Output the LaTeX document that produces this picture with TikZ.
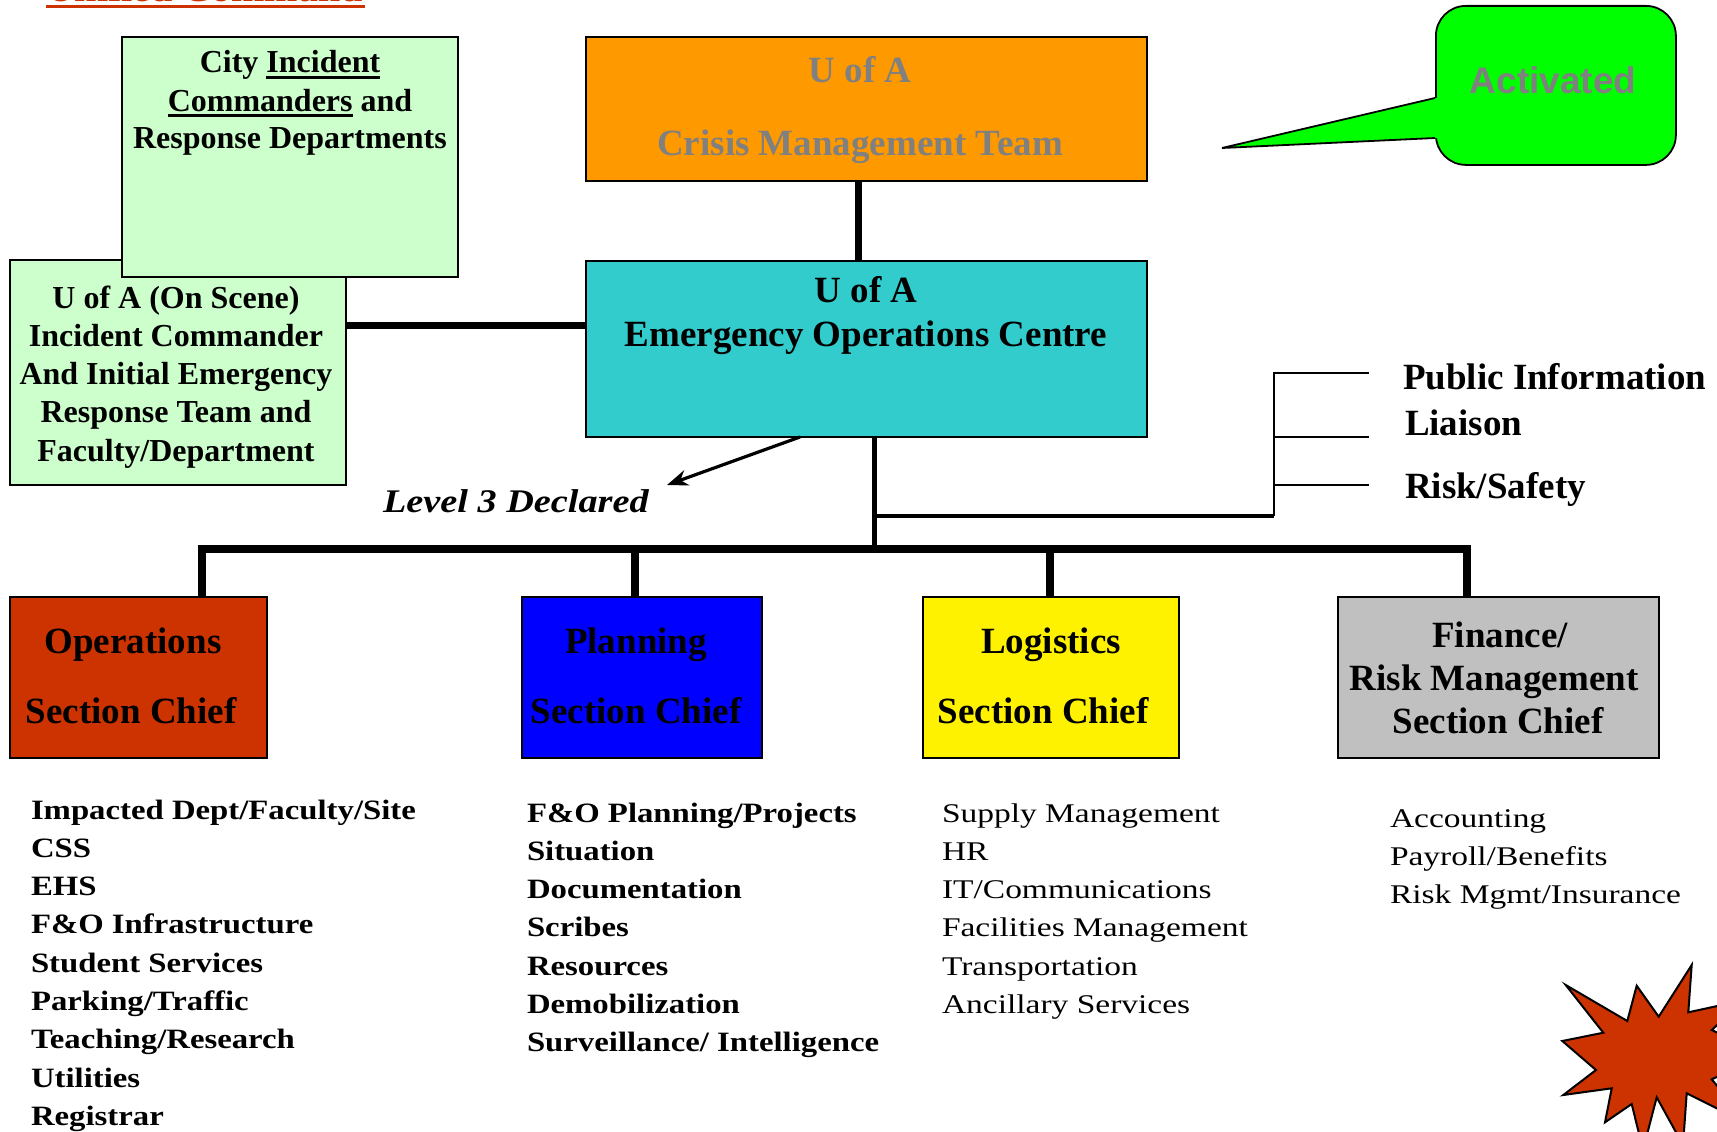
\documentclass[tikz,border=0pt]{standalone}
\usepackage{fontspec}
\setmainfont{Liberation Serif}
\newfontfamily\sansf{Liberation Sans}
\newfontfamily\garB[FakeStretch=1.17]{Liberation Serif}
\newfontfamily\garR[FakeStretch=1.24]{Liberation Serif}
\newfontfamily\garI[FakeStretch=1.16]{Liberation Serif}
\usetikzlibrary{arrows.meta}
\definecolor{opsred}{HTML}{CC3300}
\definecolor{cmtorange}{HTML}{FF9900}
\definecolor{eocteal}{HTML}{33CCCC}
\definecolor{palegreen}{HTML}{CCFFCC}
\definecolor{fingray}{HTML}{C0C0C0}
\definecolor{txtgray}{HTML}{808080}
\definecolor{bubblegreen}{HTML}{00FF00}
\newcommand\myul[1]{\setbox0=\hbox{#1}\rlap{\rule[-6pt]{\wd0}{2.6pt}}\box0\relax}
\newcommand\myfs[2]{\fontsize{#1}{#2}\selectfont}
\tikzset{
  box/.style={draw=black, line width=2pt, inner sep=0pt, outer sep=0pt, anchor=north west},
  txt/.style={inner sep=0pt, outer sep=0pt, anchor=base},
  txtl/.style={inner sep=0pt, outer sep=0pt, anchor=base west},
  hdr/.style={txt, font=\bfseries\myfs{37}{44}},
  hdrl/.style={txtl, font=\bfseries\myfs{37}{44}},
  smallhdr/.style={txt, font=\bfseries\myfs{32}{38}},
  listb/.style={txtl, font=\garB\bfseries\myfs{28}{34}},
  listr/.style={txtl, font=\garR\myfs{27}{33}},
  thickline/.style={line width=7.5pt, line join=miter},
  thinline/.style={line width=2pt},
}
\begin{document}
\begin{tikzpicture}[x=1pt,y=-1pt]
\useasboundingbox (0,0) rectangle (1717,1132);
\clip (0,0) rectangle (1717,1132);

% title (cut off at top)
\node[txtl, font=\bfseries\myfs{40}{48}, text=opsred] (title) at (46,2) {Unified Command};
\fill[opsred] (46,5) rectangle (365,8);

% boxes
\node[box, fill=palegreen, minimum width=336pt, minimum height=225pt] (onscene) at (10,260) {};
\node[box, fill=palegreen, minimum width=336pt, minimum height=240pt] (city) at (122,37) {};
\node[box, fill=cmtorange, minimum width=561pt, minimum height=144pt] (cmt) at (586,37) {};
\node[box, fill=eocteal, minimum width=561pt, minimum height=176pt] (eoc) at (586,261) {};
\node[box, fill=opsred, minimum width=257pt, minimum height=161pt] (ops) at (10,597) {};
\node[box, fill=blue, minimum width=240pt, minimum height=161pt] (plan) at (522,597) {};
\node[box, fill=yellow, minimum width=256pt, minimum height=161pt] (logi) at (923,597) {};
\node[box, fill=fingray, minimum width=321pt, minimum height=161pt] (fin) at (1338,597) {};

% connectors
\coordinate (cmtB) at (858.5,181);
\draw[line width=7.5pt] (cmtB) -- (cmtB |- eoc.north);
\coordinate (osR) at (346,325);
\draw[line width=7pt] (osR) -- (osR -| eoc.west);
\coordinate (eocB) at (874,437);
\coordinate (busM) at (874,549);
\draw[line width=5pt] (eocB) -- (busM);
\coordinate (busL) at (202,549);
\coordinate (busR) at (1467,549);
\coordinate (busP) at (635,549);
\coordinate (busG) at (1050,549);
\draw[thickline] (busL |- ops.north) -- (busL) -- (busR) -- (busR |- fin.north);
\draw[thickline] (busP) -- (busP |- plan.north);
\draw[thickline] (busG) -- (busG |- logi.north);

% staff branch
\coordinate (brA) at (874,516);
\coordinate (brB) at (1274,516);
\coordinate (brT) at (1274,373);
\coordinate (brM) at (1274,437);
\coordinate (brN) at (1274,485);
\coordinate (endPI) at (1369,373);
\coordinate (endLI) at (1369,437);
\coordinate (endRS) at (1369,485);
\draw[line width=4.5pt] (brA) -- (brB);
\draw[thinline] (brB) -- (brT) -- (endPI);
\draw[thinline] (brM) -- (endLI);
\draw[thinline] (brN) -- (endRS);

% arrow
\coordinate (arS) at (800,437);
\coordinate (arE) at (667,485);
\draw[line width=3.2pt, -{Stealth[length=21pt,width=16pt]}] (arS) -- (arE);

% box texts
\node[smallhdr] (cityT1) at (290,73) {City \myul{Incident}};
\node[smallhdr] (cityT2) at (290,111) {\myul{Commanders} and};
\node[smallhdr] (cityT3) at (290,148) {Response Departments};

\node[smallhdr] (osT1) at (176,308) {U of A (On Scene)};
\node[smallhdr] (osT2) at (176,346.3) {Incident Commander};
\node[smallhdr] (osT3) at (176,384.6) {And Initial Emergency};
\node[smallhdr] (osT4) at (176,422.9) {Response Team and};
\node[smallhdr] (osT5) at (176,461.2) {Faculty/Department};

\node[hdr, text=txtgray] (cmtT1) at (860,83) {U of A};
\node[hdr, text=txtgray] (cmtT2) at (860,155) {Crisis Management Team};

\node[hdr] (eocT1) at (866,302) {U of A};
\node[hdr] (eocT2) at (866,346) {Emergency Operations Centre};

\node[hdr] (opsT1) at (133,653) {Operations};
\node[hdr] (opsT2) at (131,723) {Section Chief};
\node[hdr] (planT1) at (636,653) {Planning};
\node[hdr] (planT2) at (636,723) {Section Chief};
\node[hdr] (logiT1) at (1051,653) {Logistics};
\node[hdr] (logiT2) at (1043,723) {Section Chief};
\node[hdr] (finT1) at (1500,647) {Finance/};
\node[hdr] (finT2) at (1494,690) {Risk Management};
\node[hdr] (finT3) at (1498,733) {Section Chief};

\node[hdrl] (pubI) at (1403,389) {Public Information};
\node[hdrl] (liai) at (1405,435) {Liaison};
\node[hdrl] (risk) at (1405,498) {Risk/Safety};

\node[txtl, font=\garI\bfseries\itshape\myfs{33}{40}] (lvl3) at (383,512) {Level 3 Declared};

% lists
\foreach \t [count=\i] in {Impacted Dept/Faculty/Site, CSS, EHS, F\&O Infrastructure, Student Services, Parking/Traffic, Teaching/Research, Utilities, Registrar}
  \node[listb] (opsL\i) at (31,{819+38.3*(\i-1)}) {\t};
\foreach \t [count=\i] in {F\&O Planning/Projects, Situation, Documentation, Scribes, Resources, Demobilization, Surveillance/ Intelligence}
  \node[listb] (planL\i) at (527,{822+38.3*(\i-1)}) {\t};
\foreach \t [count=\i] in {Supply Management, HR, IT/Communications, Facilities Management, Transportation, Ancillary Services}
  \node[listr] (logiL\i) at (942,{822+38.3*(\i-1)}) {\t};
\foreach \t [count=\i] in {Accounting, Payroll/Benefits, Risk Mgmt/Insurance}
  \node[listr] (finL\i) at (1390,{827+38.3*(\i-1)}) {\t};

% speech bubble
\node[draw=black, line width=1.8pt, fill=bubblegreen, rounded corners=30pt, minimum width=240pt, minimum height=159pt, anchor=north west, inner sep=0pt] (bubble) at (1435,5) {};
\coordinate (tailTip) at (1222,148);
\coordinate (tailU) at (1435,98);
\coordinate (tailD) at (1435,138);
\fill[bubblegreen] (tailTip) -- (tailU) -- ([xshift=3pt]tailU) -- ([xshift=3pt]tailD) -- (tailD) -- cycle;
\draw[line width=1.8pt] (tailU) -- (tailTip) -- (tailD);
\node[txt, font=\sansf\bfseries\myfs{37}{44}, text=txtgray] (act) at (1553,93) {Activated};

% starburst
\filldraw[fill=opsred, draw=black, line width=2pt, line join=miter]
  (1565.7,985) -- (1627.3,1021) -- (1636.7,985.7) -- (1658.7,1016.7) -- (1691.7,965)
  -- (1688.3,1012.3) -- (1745,1000) -- (1711.7,1030) -- (1765,1055) -- (1711.7,1079.3)
  -- (1750,1125) -- (1686.7,1093.3) -- (1683,1145) -- (1656.7,1097.3) -- (1643,1150)
  -- (1631.7,1104) -- (1605,1122.3) -- (1611.7,1088.3) -- (1563.3,1095) -- (1596,1070)
  -- (1562.3,1041) -- (1603.3,1032.7) -- cycle;
\end{tikzpicture}
\end{document}
